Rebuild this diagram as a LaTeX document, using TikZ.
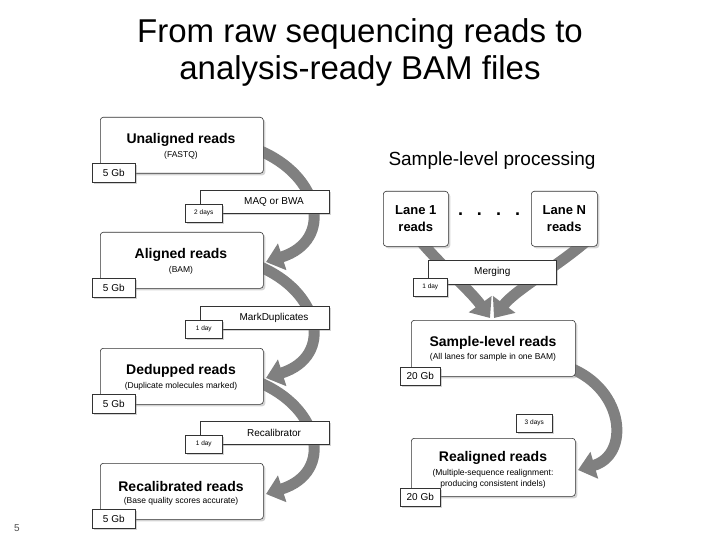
\documentclass[tikz,border=0pt]{standalone}
\usepackage{fontspec}
\setmainfont{Liberation Sans}
\usetikzlibrary{shadows,arrows.meta}
\begin{document}
\begin{tikzpicture}[x=1pt,y=-1pt,
  box/.style={draw=black!80,line width=0.6pt,fill=white,rounded corners=3pt,drop shadow={shadow xshift=2pt,shadow yshift=-2pt,opacity=0.35}},
  tag/.style={draw=black!80,line width=0.6pt,fill=white,drop shadow={shadow xshift=1.5pt,shadow yshift=-1.5pt,opacity=0.35}},
  flow/.style={draw=black!50,line width=11pt,-{Triangle[length=17pt,width=27pt]}},
  ttl/.style={font=\bfseries\fontsize{14}{16}\selectfont},
  sub/.style={font=\fontsize{8.5}{10}\selectfont},
]
\useasboundingbox (0,0) rectangle (720,540);
\node (title) at (360,52) [align=center,font=\fontsize{33}{37}\selectfont] {From raw sequencing reads to\\analysis-ready BAM files};
\node (pg) at (17,528) [font=\fontsize{10}{12}\selectfont,text=black!70] {5};

% left column curves (behind)
\draw[flow] (258,150) .. controls (320,175) and (335,240) .. (266,262);
\draw[flow] (258,266) .. controls (320,291) and (335,356) .. (266,378);
\draw[flow] (258,382) .. controls (320,407) and (335,472) .. (266,494);
% right curves
\draw[flow] (570,368) .. controls (625,390) and (630,455) .. (578,470);
\draw[flow] (418,238) .. controls (440,265) and (470,290) .. (490,318);
\draw[flow] (590,238) .. controls (560,265) and (515,290) .. (494,318);

% left boxes
\foreach \n/\y/\t/\s in {u/117/Unaligned reads/(FASTQ), a/232/Aligned reads/(BAM), d/348/Dedupped reads/(Duplicate molecules marked), r/463/Recalibrated reads/(Base quality scores accurate)}{
  \node[box,minimum width=163pt,minimum height=56pt,anchor=north west] (\n) at (100,\y) {};
  \node[ttl] (\n t) at (181,\y+23) {\t};
  \node[sub] (\n s) at (181,\y+38) {\s};
  \node[tag,minimum width=43pt,minimum height=19pt,anchor=north west,font=\fontsize{10}{12}\selectfont] (\n g) at (92,\y+46) {5 Gb};
}
\foreach \n/\y/\t/\d in {p1/190/MAQ or BWA/2 days, p2/306/MarkDuplicates/1 day, p3/421/Recalibrator/1 day}{
  \node[tag,minimum width=129pt,minimum height=23pt,anchor=north west] (\n) at (200,\y) {};
  \node[font=\fontsize{10}{12}\selectfont] (\n t) at (274,\y+12) {\t};
  \node[tag,minimum width=37pt,minimum height=18pt,anchor=north west,font=\fontsize{6.5}{8}\selectfont] (\n d) at (185,\y+14) {\d};
}

% right
\node (sp) at (492,161) [font=\fontsize{19}{22}\selectfont] {Sample-level processing};
\node[box,minimum width=65pt,minimum height=55pt,anchor=north west,align=center,font=\bfseries\fontsize{13}{17}\selectfont] (l1) at (383,191) {Lane 1\\reads};
\node[box,minimum width=66pt,minimum height=55pt,anchor=north west,align=center,font=\bfseries\fontsize{13}{17}\selectfont] (ln) at (531,191) {Lane N\\reads};
\node (dots) at (489,214) [font=\bfseries\fontsize{18}{20}\selectfont] {.\hspace{14pt}.\hspace{14pt}.\hspace{14pt}.};
\node[tag,minimum width=128pt,minimum height=24pt,anchor=north west,font=\fontsize{10}{12}\selectfont] (mg) at (428,260) {Merging};
\node[tag,minimum width=34pt,minimum height=18pt,anchor=north west,font=\fontsize{6.5}{8}\selectfont] (mgd) at (413,278) {1 day};
\node[box,minimum width=164pt,minimum height=56pt,anchor=north west] (sl) at (411,320) {};
\node[ttl] (slt) at (493,343) {Sample-level reads};
\node[sub] (sls) at (493,357) {(All lanes for sample in one BAM)};
\node[tag,minimum width=40pt,minimum height=18pt,anchor=north west,font=\fontsize{10}{12}\selectfont] (slg) at (400,367) {20 Gb};
\node[tag,minimum width=36pt,minimum height=18pt,anchor=north west,font=\fontsize{6.5}{8}\selectfont] (td) at (516,414) {3 days};
\node[box,minimum width=164pt,minimum height=58pt,anchor=north west] (ra) at (411,438) {};
\node[ttl] (rat) at (493,458) {Realigned reads};
\node[sub,align=center,font=\fontsize{8.5}{11}\selectfont] (ras) at (493,479) {(Multiple-sequence realignment:\\producing consistent indels)};
\node[tag,minimum width=40pt,minimum height=18pt,anchor=north west,font=\fontsize{10}{12}\selectfont] (rag) at (400,488) {20 Gb};
\end{tikzpicture}
\end{document}
